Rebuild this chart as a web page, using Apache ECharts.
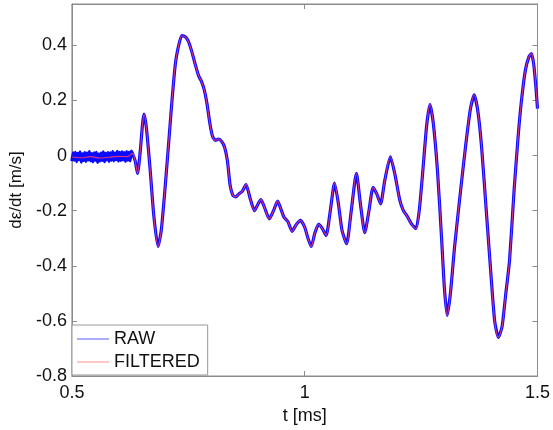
<!DOCTYPE html>
<html>
<head>
<meta charset="utf-8">
<script src="https://cdn.jsdelivr.net/npm/echarts@6/dist/echarts.min.js"></script>
<style>html,body{margin:0;padding:0;background:#fff}#c{width:553px;height:430px}</style>
</head>
<body>
<div id="c"></div>
<script>
// Filtered signal (t in ms, value in m/s)
var filtT = [0.50,0.52,0.54,0.56,0.58,0.60,0.62,0.630,0.636,0.641,0.647,0.652,0.655,0.660,0.668,0.676,0.685,0.692,0.700,0.708,0.715,0.722,0.728,0.736,0.744,0.750,0.757,0.765,0.772,0.778,0.784,0.790,0.796,0.802,0.808,0.815,0.822,0.828,0.834,0.840,0.846,0.852,0.858,0.866,0.874,0.882,0.892,0.900,0.906,0.914,0.924,0.933,0.942,0.948,0.956,0.964,0.973,0.982,0.991,1.000,1.007,1.014,1.022,1.030,1.038,1.046,1.055,1.064,1.072,1.080,1.090,1.100,1.111,1.120,1.129,1.138,1.147,1.155,1.163,1.172,1.184,1.194,1.204,1.212,1.220,1.230,1.239,1.246,1.254,1.262,1.269,1.276,1.285,1.294,1.300,1.306,1.313,1.322,1.334,1.346,1.356,1.364,1.372,1.380,1.390,1.400,1.408,1.416,1.424,1.432,1.440,1.450,1.458,1.465,1.474,1.482,1.487,1.492,1.497,1.500];
var filtV = [-0.005,-0.008,-0.004,-0.009,-0.006,-0.003,-0.004,0.008,-0.02,-0.065,0.02,0.12,0.15,0.10,-0.05,-0.22,-0.33,-0.27,-0.12,0.05,0.20,0.33,0.39,0.435,0.43,0.415,0.38,0.33,0.29,0.27,0.24,0.19,0.12,0.07,0.055,0.06,0.05,0.03,-0.02,-0.11,-0.145,-0.15,-0.14,-0.13,-0.105,-0.15,-0.20,-0.175,-0.16,-0.19,-0.23,-0.20,-0.165,-0.19,-0.225,-0.24,-0.275,-0.25,-0.235,-0.26,-0.30,-0.33,-0.28,-0.25,-0.265,-0.29,-0.20,-0.10,-0.17,-0.27,-0.32,-0.20,-0.065,-0.18,-0.28,-0.20,-0.115,-0.14,-0.175,-0.09,-0.005,-0.07,-0.16,-0.20,-0.22,-0.25,-0.265,-0.20,-0.05,0.11,0.185,0.12,-0.05,-0.30,-0.48,-0.58,-0.50,-0.33,-0.14,0.04,0.17,0.22,0.16,0.03,-0.20,-0.43,-0.60,-0.66,-0.62,-0.50,-0.38,-0.12,0.06,0.19,0.31,0.36,0.37,0.33,0.24,0.17];
var rawNoiseT = [0.5000,0.5025,0.5050,0.5075,0.5100,0.5125,0.5150,0.5175,0.5200,0.5225,0.5250,0.5275,0.5300,0.5325,0.5350,0.5375,0.5400,0.5425,0.5450,0.5475,0.5500,0.5525,0.5550,0.5575,0.5600,0.5625,0.5650,0.5675,0.5700,0.5725,0.5750,0.5775,0.5800,0.5825,0.5850,0.5875,0.5900,0.5925,0.5950,0.5975,0.6000,0.6025,0.6050,0.6075,0.6100,0.6125,0.6150,0.6175,0.6200,0.6225,0.6250,0.6275];
var rawNoiseV = [-0.020,0.010,-0.017,0.012,-0.022,0.008,-0.015,0.013,-0.024,0.006,-0.018,0.011,-0.021,0.009,-0.016,0.014,-0.019,0.007,-0.023,0.010,-0.017,0.012,-0.025,0.005,-0.020,0.009,-0.018,0.013,-0.022,0.008,-0.016,0.011,-0.021,0.010,-0.017,0.014,-0.019,0.009,-0.015,0.015,-0.020,0.012,-0.018,0.013,-0.016,0.011,-0.021,0.014,-0.017,0.012,-0.019,0.016];
var xTicks = [0.5, 1, 1.5];
var yTicks = [-0.8, -0.6, -0.4, -0.2, 0, 0.2, 0.4];

var filtData = filtT.map(function(t,i){return [t, filtV[i]];});
var rawData = rawNoiseT.map(function(t,i){return [t, rawNoiseV[i]];});
filtT.forEach(function(t,i){ if (t >= 0.63) rawData.push([t, filtV[i]]); });

var FONT = "'Liberation Sans', Arial, sans-serif";
var axisCol = '#8c8c8c';
function baseAxis(extra){
  var a = {
    axisLine:{show:true,onZero:false,lineStyle:{color:axisCol,width:1}},
    axisTick:{show:true,inside:true,length:5,lineStyle:{color:axisCol}},
    splitLine:{show:false},
    axisLabel:{show:false}
  };
  for (var k in extra) a[k]=extra[k];
  return a;
}
var chart = echarts.init(document.getElementById('c'));
chart.setOption({
  animation:false,
  backgroundColor:'#fff',
  grid:{left:67,right:15,top:4,bottom:54,containLabel:false,show:true,borderColor:axisCol,borderWidth:1,backgroundColor:'transparent'},
  legend:{
    orient:'vertical', left:72, top:325,
    backgroundColor:'#fff', borderColor:'#999', borderWidth:1, borderRadius:0,
    padding:[5,8,4,5], itemGap:5, itemWidth:32, itemHeight:1.5,
    textStyle:{fontFamily:FONT,fontSize:18,color:'#111',padding:[0,0,0,0],height:18,lineHeight:18},
    data:[
      {name:'RAW', icon:'rect', itemStyle:{color:'#8f8fff'}},
      {name:'FILTERED', icon:'rect', itemStyle:{color:'#ffb3b3'}}
    ]
  },
  xAxis:[
    baseAxis({type:'value',min:0.5,max:1.5,interval:0.5,position:'bottom',
      name:'t [ms]',nameLocation:'middle',nameGap:28,
      nameTextStyle:{fontFamily:FONT,fontSize:18,color:'#111'},
      axisLabel:{show:true,margin:8,fontFamily:FONT,fontSize:18,color:'#111',
        formatter:function(v){return String(+v.toFixed(2));}}}),
    baseAxis({type:'value',min:0.5,max:1.5,interval:0.5,position:'top'})
  ],
  yAxis:[
    baseAxis({type:'value',min:-0.8,max:0.55,interval:0.2,position:'left',
      name:'d\u03b5/dt [m/s]',nameLocation:'middle',nameGap:40,nameRotate:90,
      nameTextStyle:{fontFamily:FONT,fontSize:17,color:'#111'},
      axisLabel:{show:true,margin:5,fontFamily:FONT,fontSize:18,color:'#111',showMaxLabel:false,
        formatter:function(v){ if (v>0.5) return ''; return String(+v.toFixed(1));}}}),
    baseAxis({type:'value',min:-0.8,max:0.55,interval:0.2,position:'right'})
  ],
  series:[
    {name:'RAW',type:'line',data:rawData,symbol:'none',smooth:0.2,
      lineStyle:{color:'#0a0aff',width:3.2},itemStyle:{color:'#0a0aff'},z:2},
    {name:'FILTERED',type:'line',data:filtData,symbol:'none',smooth:0.3,
      lineStyle:{color:'#ff3a6a',width:1.1,opacity:0.85},itemStyle:{color:'#ff3a6a'},z:3}
  ]
});
</script>
</body>
</html>
